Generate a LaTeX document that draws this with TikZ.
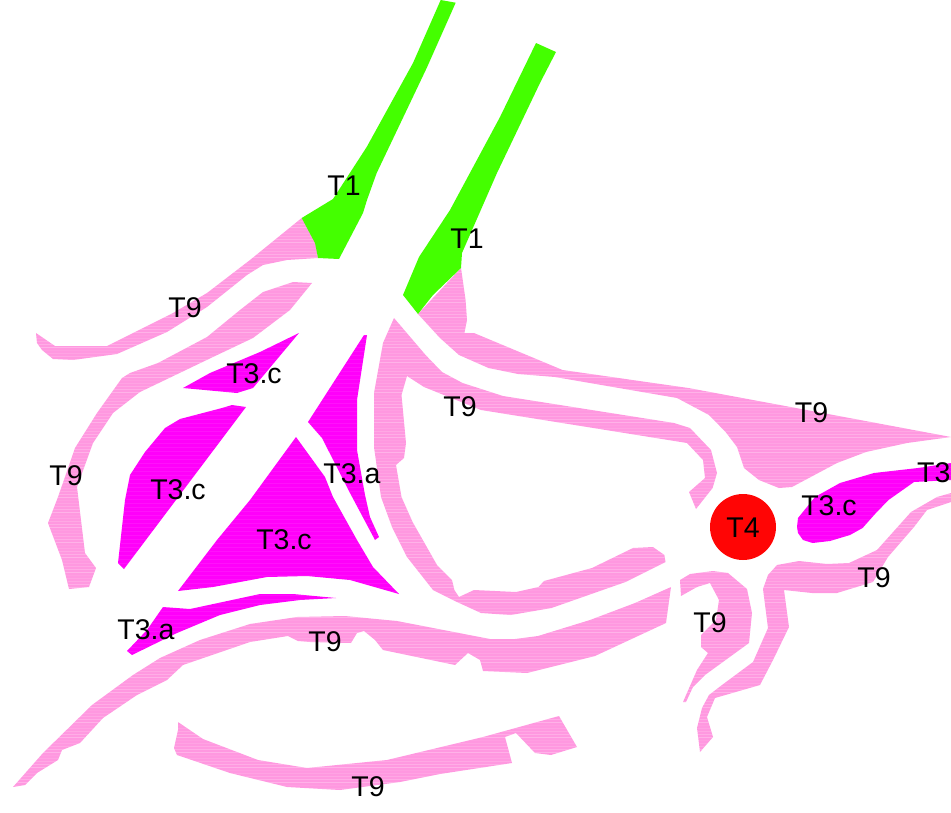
\documentclass[tikz,border=0pt]{standalone}
\usepackage{fontspec}
\setmainfont{Liberation Sans}
\definecolor{tpink}{RGB}{255,152,224}
\definecolor{tmag}{RGB}{255,0,250}
\definecolor{tgreen}{RGB}{68,255,0}
\definecolor{tred}{RGB}{255,5,5}
\tikzset{
  pinkzone/.style={fill=tpink,draw=none},
  magzone/.style={fill=tmag,draw=none},
  greenzone/.style={fill=tgreen,draw=none},
  redzone/.style={fill=tred,draw=none},
  streak/.style={white,line width=1pt},
  lab/.style={anchor=base,inner sep=0pt,text=black,font=\fontsize{28.5}{28.5}\selectfont}
}
\def\zonepink{
(301.7,218)--(315,240)--(318,258)--(287,260)--(263,265)--(247,275)--(207,307)--(167,332)--(117,354)--(73,360)--(53,359)--(42,350)--(37,343)--(36,333)--(55,346)--(107,346)--(173,313)--(207,293)--(250,260)--cycle
(293,282)--(312,283)--(290,310)--(253,338)--(213,357)--(140,392)--(113,413)--(93,443)--(77,487)--(85,553)--(96,568)--(89,587)--(69,589)--(62,560)--(48,523)--(58,497)--(75,448)--(97,413)--(122,378)--(130,373)--(158,363)--(207,337)--(240,310)--(263,292)--cycle
(461,268)--(465.6,300)--(467,320)--(464.4,333)--(474,333)--(562.6,370)--(688.5,388)--(796,408)--(951,437)--(907,443)--(866,452)--(837,463)--(792,487)--(779,488)--(759,480)--(744,468)--(737,447)--(725.6,432)--(709,415)--(677,398)--(555,377)--(518,374)--(488.5,368)--(459,355)--(440,338)--(418,314)--cycle
(394,318)--(425.6,355)--(442,372)--(462.6,383)--(503,396)--(674,423)--(690,428)--(711,450)--(717,473)--(712.6,488)--(696,509)--(689,492)--(705,478)--(703,460)--(687,443)--(481,410)--(424,387)--(407,376)--(401.5,395)--(406,443)--(404,458)--(396,465)--(401.5,497)--(412.6,522)--(437,565)--(452,580)--(454.4,590)--(459,597)--(474,590)--(516,592)--(538.5,587)--(544,581)--(592,568)--(633,548)--(653,547)--(664.4,555)--(665.5,562)--(625.5,582)--(551.5,608)--(510.7,615)--(481,613)--(457,602)--(433,590)--(407,557)--(392,527)--(381,497)--(374,447)--(374,393)--(383,343)--cycle
(13,787)--(43,753)--(92,705)--(133,675)--(160,658)--(200,640)--(250,624)--(297,617)--(345,616)--(397,621)--(490,639)--(515,639)--(538,636)--(590,620)--(635,603)--(671,587)--(666,623)--(595,656)--(527,673)--(483,671)--(480,660)--(468,653)--(455,665)--(383,650)--(375,640)--(364,631)--(357,633)--(351,643)--(310,642)--(298,641)--(288,636)--(250,642)--(183,665)--(167,680)--(137,695)--(103,718)--(80,743)--(62,750)--(58,760)--(37,773)--(25,785)--cycle
(178,722)--(203,739)--(258,760)--(307,768)--(387,760)--(483,737)--(559,716)--(577,747)--(551,755)--(535,753)--(516,733)--(505,737)--(512,763)--(440,774)--(400,782)--(340,790)--(287,787)--(230,773)--(177,755)--(174,748)--(178,730)--cycle
(680,580)--(690,574)--(713,571)--(728,573)--(747,589)--(752,613)--(749,643)--(705,675)--(693,687)--(686,702)--(683,702)--(697,670)--(708,653)--(701,647)--(701,635)--(716,620)--(719,600)--(710,583)--(697,587)--(681,596)--cycle
(951,493)--(951,502)--(927,510)--(914,527)--(888,557)--(873,582)--(837,593)--(812,593)--(784,590)--(789,627)--(773,660)--(760,685)--(715,698)--(707,717)--(713,737)--(700,752)--(697,728)--(702,708)--(709,695)--(722,685)--(753,662)--(768,628)--(763,589)--(768,575)--(777,565)--(799,561)--(827,564)--(849,563)--(877,550)--(911,512)--(937,497)--cycle
}
\def\zonemag{
(299,333)--(253,388)--(237,393)--(183,388)--(210,373)--(260,352)--cycle
(246,407)--(232,405)--(222,408)--(180,419)--(165,428)--(145,452)--(130,475)--(125,500)--(118,563)--(124,569)--cycle
(367,335)--(364,335)--(308,422)--(322,438)--(350,493)--(375,540)--(379,537)--(370,517)--(365,495)--(357,450)--(357,400)--cycle
(296,437)--(325,477)--(333,497)--(357,540)--(373,567)--(399,594)--(350,580)--(307,576)--(267,577)--(213,587)--(178,591)--(217,540)--(250,500)--cycle
(163,607)--(190,609)--(260,594)--(293,594)--(336,598)--(300,600)--(260,605)--(220,615)--(177,633)--(132,655)--(127,651)--(147,630)--cycle
(797,527)--(798,518)--(815,497)--(840,483)--(874,473)--(918,468)--(951,463)--(951,480)--(914,482)--(888.5,500)--(875,514)--(862.6,528)--(850,535)--(830,541)--(812.6,543)--(803,540)--(798,533)--cycle
}
\begin{document}
\begin{tikzpicture}[x=1pt,y=-1pt]
\useasboundingbox (0,0) rectangle (951,812);
% pink T9 zones with their pale horizontal streaks
\fill[pinkzone] \zonepink;
\begin{scope}
\clip \zonepink;
\foreach \yy in {2,5,...,812}{
  \pgfmathsetmacro{\op}{0.06+0.05*mod(\yy*7,5)}
  \draw[streak,opacity=\op] (0,\yy) -- (951,\yy);
}
\end{scope}
% magenta T3 zones
\fill[magzone] \zonemag;
\begin{scope}
\clip \zonemag;
\foreach \yy in {3,7,...,812}{
  \draw[streak,opacity=0.07] (0,\yy) -- (951,\yy);
}
\end{scope}
% green T1 zones
\fill[greenzone] (440.7,0)--(455.7,2.7)--(446.7,23)--(426.7,68)--(376.7,173)--(367,200)--(363,213)--(339,259)--(318,258)--(315,243)--(301.7,218)--(333,199)--(366.7,147)--(413,63)--cycle;
\fill[greenzone] (536,43)--(556,52)--(540,83)--(497,173)--(462,253)--(461,268)--(433,295)--(418,314)--(403,295)--(419,257)--(450,210)--(500,117)--cycle;
% red zone
\fill[redzone] (743,527) circle[radius=33];
% labels
\node[lab] (a1) at (344,195) {T1};
\node[lab] (a2) at (467,248) {T1};
\node[lab] (a3) at (185,317) {T9};
\node[lab] (a4) at (254,383) {T3.c};
\node[lab] (a5) at (66,485) {T9};
\node[lab] (a6) at (178,499) {T3.c};
\node[lab] (a7) at (352,483) {T3.a};
\node[lab] (a8) at (284,549) {T3.c};
\node[lab] (a9) at (460,416) {T9};
\node[lab] (a10) at (811.5,422) {T9};
\node[lab] (a11) at (743,537) {T4};
\node[lab] (a12) at (829,515) {T3.c};
\node[lab,anchor=base west] (a13) at (917,482) {T3};
\node[lab] (a14) at (874,587) {T9};
\node[lab] (a15) at (710,632) {T9};
\node[lab] (a16) at (146,639) {T3.a};
\node[lab] (a17) at (325,651) {T9};
\node[lab] (a18) at (368,796) {T9};
\end{tikzpicture}
\end{document}
